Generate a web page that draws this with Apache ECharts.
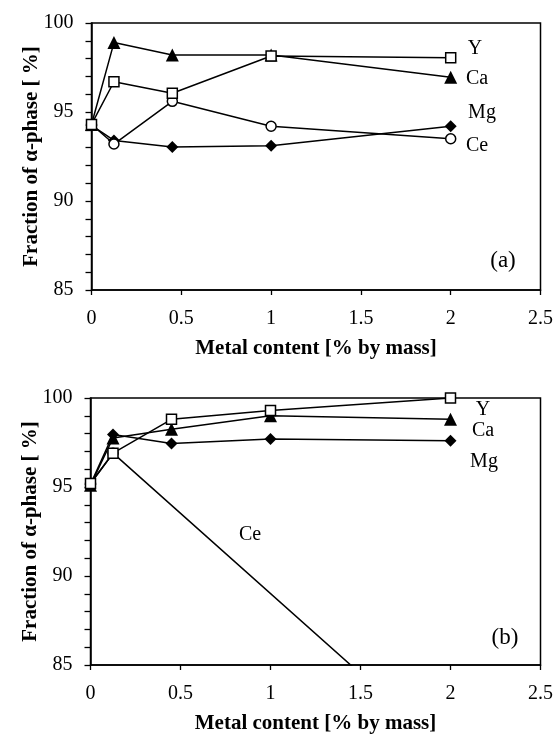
<!DOCTYPE html>
<html>
<head>
<meta charset="utf-8">
<script src="https://cdn.jsdelivr.net/npm/echarts@6/dist/echarts.min.js"></script>
<style>
  html, body { margin: 0; padding: 0; background: #fff; }
  #chart { width: 556px; height: 735px; }
</style>
</head>
<body>
<div id="chart"></div>
<script>
// Metal content (% by mass) shared by both panels
const metalContent = [0, 0.125, 0.45, 1, 2];

// Panel (a): fraction of alpha-phase [%]
const aY  = [94.3, 96.7, 96.05, 98.15, 98.05];
const aCa = [94.3, 98.9, 98.2, 98.2, 96.95];
const aMg = [94.25, 93.4, 93.03, 93.1, 94.2];
const aCe = [94.3, 93.2, 95.6, 94.2, 93.5];

// Panel (b): fraction of alpha-phase [%]
const bY  = [95.2, 96.9, 98.8, 99.3, 100];
const bCa = [95.1, 97.75, 98.25, 99.0, 98.8];
const bMg = [95.15, 97.95, 97.45, 97.7, 97.6];
const bCeContent = [0, 0.125, 2];
const bCe = [95.2, 96.9, 80.0];

const xTicks = [0, 0.5, 1, 1.5, 2, 2.5];
const yTicks = [85, 90, 95, 100];

const FONT = 'Liberation Serif';
const pair = (xs, ys) => xs.map((x, i) => [x, ys[i]]);

function xAxisFor(gridIndex) {
  return {
    gridIndex, type: 'value', min: 0, max: 2.5, interval: 0.5,
    name: 'Metal content [% by mass]', nameLocation: 'middle', nameGap: 48,
    nameMoveOverlap: false,
    nameTextStyle: { fontFamily: FONT, fontWeight: 'bold', fontSize: 21, color: '#000' },
    axisLine: { show: true, onZero: false, lineStyle: { color: '#000', width: 1.5 } },
    axisTick: { show: true, inside: false, length: 5, lineStyle: { color: '#000', width: 1.3 } },
    axisLabel: { fontFamily: FONT, fontSize: 20, color: '#000', margin: 19,
      formatter: v => (xTicks.indexOf(v) >= 0 ? String(v) : '') },
    splitLine: { show: false }
  };
}

function yAxisFor(gridIndex) {
  return {
    gridIndex, type: 'value', min: 85, max: 100, interval: 5,
    name: 'Fraction of α-phase [ %]', nameLocation: 'middle', nameGap: 49, nameRotate: 90,
    nameMoveOverlap: false,
    nameTextStyle: { fontFamily: FONT, fontWeight: 'bold', fontSize: 21, color: '#000' },
    axisLine: { show: true, onZero: false, lineStyle: { color: '#000', width: 1.5 } },
    axisTick: { show: true, inside: false, length: 6, lineStyle: { color: '#000', width: 1.3 } },
    minorTick: { show: true, splitNumber: 5, length: 6, lineStyle: { color: '#000', width: 1.3 } },
    axisLabel: { fontFamily: FONT, fontSize: 20, color: '#000', margin: 18,
      formatter: v => (yTicks.indexOf(v) >= 0 ? String(v) : '') },
    splitLine: { show: false }
  };
}

const styles = {
  Y:  { symbol: 'rect', symbolSize: 10, itemStyle: { color: '#fff', borderColor: '#000', borderWidth: 1.5 } },
  Ca: { symbol: 'triangle', symbolSize: 13, itemStyle: { color: '#000', borderColor: '#000', borderWidth: 0 } },
  Mg: { symbol: 'diamond', symbolSize: 12, itemStyle: { color: '#000', borderColor: '#000', borderWidth: 0 } },
  Ce: { symbol: 'circle', symbolSize: 10, itemStyle: { color: '#fff', borderColor: '#000', borderWidth: 1.5 } }
};

function lineSeries(name, idx, data, z) {
  return Object.assign({
    name, type: 'line', xAxisIndex: idx, yAxisIndex: idx, data,
    showSymbol: true, animation: false, z,
    lineStyle: { color: '#000', width: 1.5 },
    emphasis: { disabled: true }
  }, styles[name]);
}

function tag(text, x, y, size) {
  return { type: 'text', x, y,
    style: { text, fontFamily: FONT, fontSize: size || 20, fill: '#000', align: 'center', verticalAlign: 'middle' } };
}

const chart = echarts.init(document.getElementById('chart'), null, { renderer: 'canvas' });
chart.setOption({
  backgroundColor: '#fff',
  grid: [
    { left: 91.5, top: 23, width: 449, height: 267, show: true, borderColor: '#000', borderWidth: 1.5, backgroundColor: 'transparent' },
    { left: 90.5, top: 398, width: 453.5, height: 269, show: true, borderColor: '#000', borderWidth: 1.5, backgroundColor: 'transparent' }
  ],
  xAxis: [xAxisFor(0), xAxisFor(1)],
  yAxis: [yAxisFor(0), yAxisFor(1)],
  series: [
    lineSeries('Mg', 0, pair(metalContent, aMg), 2),
    lineSeries('Ce', 0, pair(metalContent, aCe), 3),
    lineSeries('Ca', 0, pair(metalContent, aCa), 4),
    lineSeries('Y', 0, pair(metalContent, aY), 5),
    Object.assign(lineSeries('Ce', 1, pair(bCeContent, bCe), 2), { clip: true }),
    lineSeries('Ca', 1, pair(metalContent, bCa), 3),
    lineSeries('Mg', 1, pair(metalContent, bMg), 4),
    lineSeries('Y', 1, pair(metalContent, bY), 5)
  ],
  graphic: [
    // series names beside the lines, panel (a)
    tag('Y', 475, 49), tag('Ca', 477, 79), tag('Mg', 482, 113), tag('Ce', 477, 146),
    tag('(a)', 503, 261, 23),
    // panel (b)
    tag('Y', 483, 410), tag('Ca', 483, 431), tag('Mg', 484, 462), tag('Ce', 250, 535),
    tag('(b)', 505, 638, 23)
  ]
});
</script>
</body>
</html>
